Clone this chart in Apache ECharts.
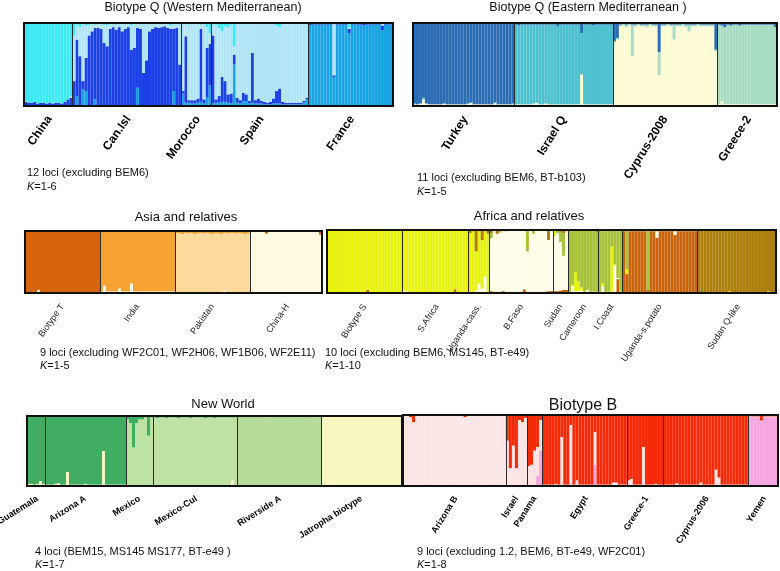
<!DOCTYPE html>
<html><head><meta charset="utf-8">
<script src="https://cdn.jsdelivr.net/npm/echarts@6/dist/echarts.min.js"></script>
<style>html,body{margin:0;padding:0;background:#fff}#c{width:780px;height:571px}</style>
</head><body><div id="c"></div><script>
// null = remainder (dominant cluster), 0 = cluster absent in that population
// ---------- Panel 1: Biotype Q (Western Mediterranean) ----------
const wmPops = ['China','Can.Isl','Morocco','Spain','France'];
const wmSizes = [16,36,10,32,28];
const wmMid = [0,
 [0,0.12,0,0.2,0.18,0,0,0.08,0,0, 0,0,0,0,0,0,0,0,0,0, 0,0.22,0,0,0,0,0,0,0,0, 0,0,0,0.18,0,0],
 [0.15,0.04,0.04,0.03,0.03,0.04,0.05,0.03,0.1,0.25],
 [0.03,0.04,0.04,0.05,0.05,0.04,0.03,0.5,0.04,0.03, 0.06,0.06,0.03,0.04,0.03,0.03,0.03,0.02,0.02,0.02, 0.03,0.03,0.03,0.02,0.02,0.02,0.02,0.02,0.02,0.02, 0.04,0.08],
 null];
const wmDark = [
 [0.05,0.04,0.04,0.05,0.03,0.04,0.04,0.03,0.04,0.03,0.04,0.04,0.03,0.05,0.08,0.1],
 [0.3,0.68,0.6,0.1,0.4,0.85,0.9,0.86,0.94,0.93, 0.76,0.72,0.93,0.95,0.92,0.95,0.9,0.93,0.95,0.68, 0.7,0.72,0.93,0.4,0.55,0.9,0.93,0.95,0.94,0.95, 0.96,0.94,0.93,0.75,0.94,0.5],
 [0.03,0.8,0.03,0.04,0.04,0.05,0.88,0.05,0.6,0.5],
 [0.82,0.04,0.08,0.3,0.25,0.1,0.12,0.12,0.06,0.04, 0.1,0.08,0.03,0.6,0.04,0.06,0.03,0.03,0.02,0.03, 0.06,0.15,0.18,0.03,0.02,0.02,0.02,0.02,0.02,0.02, 0.02,0.02],
 [0.02,0.02,0.015,0.02,0.02,0.015,0.02,0.02,0.02,0.02, 0.015,0.02,0.02,0.05,0.02,0.015,0.02,0.02,0.03,0.02, 0.02,0.015,0.02,0.02,0.06,0.02,0.02,0.015]];
const wmLight = [
 [0.01,0,0,0,0,0,0,0,0,0,0,0,0,0,0,0.02],
 null, null, null,
 [0,0,0,0,0,0,0,0,0.63,0, 0,0,0,0.02,0,0,0,0,0,0, 0,0,0,0,0.02,0,0,0]];
const wmCyan = [null,
 [0.15,0.02,0.05,0,0.03,0.02,0,0.02,0,0, 0.02,0.03,0,0,0.02,0,0,0,0,0.03, 0,0,0,0.02,0,0,0,0,0,0, 0,0,0.03,0,0,0.02],
 [0,0,0.02,0,0,0,0.02,0,0.05,0.12],
 [0.02,0.02,0.06,0.1,0.04,0.05,0.02,0.28,0,0, 0,0.02,0,0,0,0,0,0,0,0, 0,0.03,0.05,0,0,0,0,0,0,0, 0,0],
 [0.01,0,0,0,0,0,0,0,0,0, 0,0,0,0.05,0,0,0,0,0,0, 0,0,0,0,0.01,0,0,0]];

// ---------- Panel 2: Biotype Q (Eastern Mediterranean) ----------
const emPops = ['Turkey','Israel Q','Cyprus-2008','Greece-2'];
const emSizes = [34,33,35,20];
const emCream = [
 [0.02,0.02,0.03,0.08,0.03,0.02,0.02,0.02,0.02,0.02, 0.03,0.02,0.02,0.02,0.02,0.02,0.02,0.02,0.03,0.04, 0.02,0.02,0.02,0.02,0.02,0.02,0.02,0.04,0.02,0.02, 0.02,0.02,0.02,0.02],
 [0.02,0.02,0.02,0.02,0.02,0.02,0.03,0.04,0.02,0.02, 0.03,0.02,0.02,0.02,0.02,0.02,0.02,0.02,0.02,0.02, 0.02,0.02,0.38,0.02,0.02,0.02,0.02,0.02,0.02,0.02, 0.02,0.02,0.02],
 null,
 [0.02,0.06,0.02,0.02,0.02,0.02,0.02,0.02,0.02,0.02, 0.02,0.02,0.02,0.02,0.02,0.02,0.02,0.02,0.02,0.02]];
const emTeal = [
 [0.01,0,0,0.02,0,0,0,0,0,0, 0,0,0,0,0,0,0,0,0,0, 0,0,0,0,0,0,0,0,0,0, 0,0,0,0.01],
 null, 0, 0];
const emMint = [0, 0,
 [0.02,0.02,0.02,0.02,0.03,0.02,0.38,0.02,0.02,0.02, 0.02,0.03,0.02,0.02,0.02,0.28,0.02,0.02,0.02,0.02, 0.18,0.02,0.02,0.02,0.03,0.08,0.02,0.02,0.02,0.02, 0.02,0.02,0.02,0.02,0.02],
 null];
const emDark = [null,
 [0.02,0.03,0.02,0.02,0.02,0.02,0.02,0.02,0.02,0.02, 0.02,0.02,0.02,0.02,0.04,0.02,0.02,0.02,0.02,0.02, 0.02,0.02,0.12,0.02,0.02,0.02,0.03,0.02,0.02,0.02, 0.02,0.02,0.02],
 [0.22,0.18,0.02,0.01,0.02,0.01,0.02,0.02,0.01,0.02, 0.02,0.02,0.01,0.02,0.02,0.35,0.02,0.02,0.01,0.02, 0.02,0.02,0.02,0.01,0.02,0.02,0.02,0.02,0.01,0.02, 0.02,0.02,0.02,0.02,0.32],
 [0.02,0.03,0.05,0.02,0.03,0.02,0.02,0.03,0.02,0.02, 0.02,0.02,0.02,0.02,0.02,0.02,0.02,0.02,0.02,0.05]];

// ---------- Panel 3: Asia and relatives ----------
const asPops = ['Biotype T','India','Pakistan','China-H'];
const asSizes = [25,25,25,24];
const asCream = [
 [0.01,0.01,0.01,0.01,0.05,0.01,0.01,0.01,0.01,0.01, 0.01,0.01,0.01,0.01,0.01,0.01,0.01,0.01,0.01,0.01, 0.01,0.01,0.01,0.01,0.01],
 [0.02,0.1,0.02,0.02,0.02,0.02,0.06,0.02,0.02,0.02, 0.14,0.02,0.02,0.02,0.02,0.02,0.02,0.02,0.02,0.02, 0.02,0.02,0.02,0.02,0.02],
 [0,0,0,0,0,0,0,0,0,0, 0,0,0,0,0,0,0.04,0,0,0, 0,0,0,0,0],
 null];
const asPeach = [0,
 [0.01,0.02,0.01,0.01,0.01,0.01,0.02,0.01,0.01,0.01, 0.02,0.01,0.01,0.01,0.01,0.01,0.01,0.01,0.01,0.01, 0.01,0.01,0.01,0.01,0.01],
 null, 0];
const asOrange = [0, null,
 [0.03,0.04,0.05,0.03,0.04,0.03,0.05,0.04,0.03,0.04, 0.03,0.04,0.05,0.03,0.04,0.05,0.03,0.04,0.03,0.03, 0.04,0.03,0.04,0.05,0.03],
 0];
const asDark = [null, 0, 0,
 [0,0,0,0,0,0.04,0,0,0,0, 0,0,0,0,0,0,0,0,0,0, 0,0,0,0.06]];

// ---------- Panel 4: Africa and relatives ----------
const afPops = ['Biotype S','S.Africa','Uganda-cass.','B.Faso','Sudan','Cameroon','I.Coast','Uganda-s.potato','Sudan Q-like'];
const afSizes = [25,22,7,21,5,10,8,25,26];
const afOrange = [
 [0.01,0.01,0.01,0.01,0.01,0.01,0.01,0.01,0.01,0.01, 0.01,0.01,0.01,0.05,0.01,0.01,0.01,0.01,0.01,0.01, 0.01,0.01,0.01,0.01,0.01],
 [0.01,0.01,0.01,0.01,0.01,0.01,0.01,0.01,0.01,0.01, 0.01,0.01,0.01,0.01,0.01,0.01,0.01,0.06,0.01,0.01, 0.02,0.02],
 [0.02,0.02,0.02,0.02,0.02,0.02,0.02],
 [0.03,0.02,0.02,0.02,0.03,0.02,0.02,0.02,0.02,0.02, 0.02,0.06,0.02,0.02,0.02,0.02,0.02,0.02,0.02,0.03, 0.03],
 [0.03,0.03,0.04,0.05,0.05],
 [0.01,0.01,0.01,0.01,0.01,0.01,0.01,0.01,0.01,0.01],
 [0.01,0.01,0.01,0.01,0.01,0.02,0.22,0.01],
 null,
 0];
const afCream = [0,
 [0.03,0.02,0,0,0,0,0,0,0,0, 0,0,0,0,0,0,0,0,0,0, 0,0],
 [0,0,0.02,0.13,0.05,0.24,0],
 null, null,
 [0.01,0.1,0.02,0.02,0.03,0.01,0.04,0.01,0.01,0.01],
 [0.01,0.1,0.01,0.01,0.01,0.42,0.02,0.01],
 [0,0,0,0,0,0,0,0,0,0, 0,0.1,0,0,0,0,0,0.06,0,0, 0,0,0,0,0],
 0];
const afYellow = [null, null, null, 0,
 [0.1,0,0,0,0],
 [0,0.02,0.3,0.15,0.05,0,0,0,0,0],
 [0,0.05,0,0,0.72,0.02,0,0],
 [0,0.08,0,0,0,0,0,0,0,0, 0,0,0,0,0,0,0,0,0,0, 0,0,0,0,0],
 [0,0,0,0,0,0,0,0,0,0, 0.03,0,0,0,0,0,0,0,0,0, 0,0,0,0.03,0,0]];
const afOlive = [0, 0, 0,
 [0.08,0,0,0.04,0,0,0,0,0,0, 0,0,0.34,0,0.06,0,0,0,0,0, 0],
 [0,0.05,0.16,0.36,0],
 null, null,
 [0,0.6,0,0,0,0,0,0,0.93,0, 0,0,0,0,0,0,0,0,0,0, 0,0,0,0,0],
 0];
const afGold = [0, 0,
 [0.05,0.02,0.34,0.02,0.16,0.02,0.06],
 [0.05,0,0.06,0,0,0.02,0,0,0,0, 0,0,0,0,0,0,0,0,0,0.16, 0],
 [0,0,0.03,0.05,0.02],
 [0,0,0,0,0,0,0,0,0,0.04],
 0,
 [0.02,0.02,0.02,0.02,0.02,0.02,0.02,0.02,0.02,0.02, 0.02,0.02,0.02,0.02,0.02,0.02,0.02,0.02,0.02,0.02, 0.02,0.02,0.02,0.02,0.02],
 null];

// ---------- Panel 5: New World ----------
const nwPops = ['Guatemala','Arizona A','Mexico','Mexico-Cul','Riverside A','Jatropha biotype'];
const nwSizes = [6,27,9,28,28,27];
const nwYellow = [
 [0.03,0.03,0.02,0.03,0.07,0.03],
 [0.02,0.02,0.02,0.03,0.04,0.02,0.02,0.2,0.02,0.02, 0.02,0.02,0.02,0.03,0.02,0.02,0.02,0.02,0.02,0.5, 0.02,0.02,0.02,0.02,0.02,0.02,0.02],
 0,
 [0,0,0,0,0,0,0,0,0,0, 0,0,0,0,0,0,0,0,0,0, 0,0,0,0,0,0,0.08,0],
 0,
 null];
const nwRiver = [0, 0, 0, 0, null, 0];
const nwMexCul = [0, 0, null, null, 0, 0];
const nwDark = [null, null,
 [0.05,0.1,0.45,0.1,0.05,0.05,0.02,0.28,0.02],
 [0.02,0.03,0.02,0.02,0.03,0.02,0.02,0.02,0.03,0.02, 0.02,0.02,0.03,0.02,0.02,0.02,0.02,0.03,0.02,0.02, 0.03,0.02,0.02,0.02,0.02,0.02,0.02,0.02],
 [0.01,0.02,0.01,0.01,0.02,0.01,0.01,0.01,0.02,0.01, 0.01,0.01,0.02,0.01,0.01,0.02,0.01,0.01,0.01,0.02, 0.01,0.01,0.01,0.01,0.02,0.01,0.01,0.01],
 0];

// ---------- Panel 6: Biotype B ----------
const bbPops = ['Arizona B','Israel','Panama','Egypt','Greece-1','Cyprus-2006','Yemen'];
const bbSizes = [34,7,5,28,12,28,10];
const bbPink = [
 [0.01,0.01,0.01,0.01,0.01,0.01,0.01,0.01,0.01,0.01, 0.01,0.01,0.01,0.01,0.01,0.01,0.01,0.01,0.01,0.01, 0.01,0.01,0.01,0.01,0.01,0.01,0.01,0.01,0.01,0.01, 0.01,0.01,0.01,0.01],
 0,
 [0,0,0,0.15,0.5],
 [0,0,0,0,0,0,0,0,0,0, 0,0,0,0,0,0,0,0.3,0,0, 0,0,0,0,0,0,0,0],
 0, 0, null];
const bbPale = [null, null,
 [0.28,0.3,0.5,0.4,0.43],
 [0.02,0.02,0.02,0.02,0.03,0.02,0.69,0.02,0.02,0.86, 0.02,0.08,0.02,0.02,0.02,0.02,0.02,0.46,0.02,0.02, 0.02,0.02,0.02,0.05,0.05,0.02,0.02,0.02],
 [0.08,0.1,0.02,0.02,0.02,0.55,0.02,0.02,0.02,0.03,0.02,0.02],
 [0.02,0.02,0.02,0.02,0.04,0.02,0.02,0.02,0.02,0.02, 0.02,0.02,0.05,0.02,0.02,0.02,0.02,0.23,0.12,0.02, 0.02,0.02,0.02,0.02,0.02,0.02,0.02,0.02],
 [0.01,0.01,0.01,0.01,0.01,0.01,0.01,0.01,0.01,0.01]];
const bbRed = [
 [0.01,0.01,0.03,0.1,0.01,0.01,0.01,0.01,0.01,0.01, 0.01,0.01,0.01,0.01,0.01,0.01,0.01,0.01,0.01,0.01, 0.03,0.01,0.01,0.01,0.01,0.01,0.01,0.01,0.01,0.01, 0.01,0.01,0.01,0.01],
 [0.36,0.75,0.43,0.75,0.07,0.1,0.04],
 null, null, null, null,
 [0.02,0.02,0.02,0.02,0.08,0.02,0.02,0.02,0.02,0.02]];

// ---------- build ----------
function buildValues(sizes, clusterData) {
  const out = clusterData.map(() => []);
  sizes.forEach((sz, p) => {
    for (let i = 0; i < sz; i++) {
      let sum = 0, rem = -1;
      clusterData.forEach((cd, k) => {
        const d = cd[p];
        if (d === null) { rem = k; out[k].push(0); }
        else { const v = d === 0 ? 0 : d[i]; if (v === undefined) console.error('missing', p, i); out[k].push(v); sum += v; }
      });
      if (rem >= 0) out[rem][out[rem].length - 1] = Math.max(0, +(1 - sum).toFixed(3));
    }
  });
  return out;
}

const FONT = '"Liberation Sans", Arial, Helvetica, sans-serif';
const panels = [
  {pops: wmPops, sizes: wmSizes, data: [wmMid, wmDark, wmLight, wmCyan],
   colors: ['#18a3e2', '#1b40e6', '#b1e4f6', '#3deaf3'],
   grid: {left: 24, top: 23, width: 369, height: 83},
   label: {rotate: 55, fontSize: 12, fontWeight: 'bold', margin: 11, color: '#000'}},
  {pops: emPops, sizes: emSizes, data: [emCream, emTeal, emMint, emDark],
   colors: ['#fdfbd3', '#4ec1cf', '#a8dcc2', '#2b6db5'],
   grid: {left: 413, top: 23, width: 364, height: 83},
   label: {rotate: 58, fontSize: 12, fontWeight: 'bold', margin: 11, color: '#000'}},
  {pops: asPops, sizes: asSizes, data: [asCream, asPeach, asOrange, asDark],
   colors: ['#fffbe0', '#fdd99c', '#f6a334', '#d6640c'],
   grid: {left: 25, top: 231, width: 297, height: 62},
   label: {rotate: 55, fontSize: 9, fontWeight: 'normal', margin: 12, color: '#1a1a1a'}},
  {pops: afPops, sizes: afSizes, data: [afOrange, afCream, afYellow, afOlive, afGold],
   colors: ['#c8630c', '#fffce8', '#e7f20e', '#a7c23b', '#ad7f0c'],
   grid: {left: 327, top: 230, width: 449, height: 63},
   label: {rotate: 57, fontSize: 9, fontWeight: 'normal', margin: 12, color: '#1a1a1a'}},
  {pops: nwPops, sizes: nwSizes, data: [nwYellow, nwRiver, nwMexCul, nwDark],
   colors: ['#f6f6be', '#b4db9a', '#bde2a4', '#40ad62'],
   grid: {left: 27, top: 416, width: 375, height: 70},
   label: {rotate: 32, fontSize: 9, fontWeight: 'bold', margin: 12, color: '#000'}},
  {pops: bbPops, sizes: bbSizes, data: [bbPink, bbPale, bbRed],
   colors: ['#f5a6e0', '#fde4e4', '#f52a08'],
   grid: {left: 403, top: 415, width: 375, height: 71},
   label: {rotate: 58, fontSize: 9, fontWeight: 'bold', margin: 11, color: '#000'}}
];

const grids = [], xAxes = [], yAxes = [], series = [];
panels.forEach((pn, g) => {
  const n = pn.sizes.reduce((a, b) => a + b, 0);
  const cats = Array.from({length: n}, (_, i) => String(i));
  const labelAt = {}, boundaries = new Set();
  let start = 0;
  pn.sizes.forEach((sz, p) => {
    labelAt[start + Math.floor(sz / 2)] = pn.pops[p];
    if (start > 0) boundaries.add(start);
    start += sz;
  });
  grids.push(Object.assign({show: true, borderColor: '#111', borderWidth: 2, backgroundColor: 'transparent',
    z: 10, containLabel: false, outerBoundsMode: 'none'}, pn.grid));
  xAxes.push({
    type: 'category', gridIndex: g, data: cats, boundaryGap: true, z: 6,
    axisLine: {show: false}, axisTick: {show: false},
    splitLine: {show: true, interval: (i) => boundaries.has(i), lineStyle: {color: '#2a2a2a', width: 1}},
    axisLabel: {
      interval: (i) => labelAt[i] !== undefined,
      formatter: (v) => labelAt[+v] || '',
      rotate: pn.label.rotate, fontSize: pn.label.fontSize, fontWeight: pn.label.fontWeight,
      margin: pn.label.margin, color: pn.label.color, fontFamily: FONT, hideOverlap: false
    }
  });
  yAxes.push({type: 'value', gridIndex: g, min: 0, max: 1, show: false});
  const vals = buildValues(pn.sizes, pn.data);
  vals.forEach((arr, k) => {
    series.push({
      type: 'bar', xAxisIndex: g, yAxisIndex: g, stack: 'p' + g, data: arr,
      barCategoryGap: '0%', barGap: '0%', silent: true,
      itemStyle: {color: pn.colors[k], borderWidth: 0},
      emphasis: {disabled: true}
    });
  });
});

function txt(x, y, text, size, align, extra) {
  return {type: 'text', x: x, y: y, silent: true,
    style: Object.assign({text: text, fontSize: size, fontFamily: FONT, fill: '#111',
      textAlign: align, textVerticalAlign: 'middle'}, extra || {})};
}
const kRich = {rich: {i: {fontStyle: 'italic', fontSize: 11, fontFamily: FONT, fill: '#111'}}};
const graphics = [
  txt(203, 8, 'Biotype Q (Western Mediterranean)', 12.5, 'center'),
  txt(588, 8, 'Biotype Q (Eastern Mediterranean )', 12.5, 'center'),
  txt(186, 217, 'Asia and relatives', 13, 'center'),
  txt(529, 216, 'Africa and relatives', 13, 'center'),
  txt(223, 404, 'New World', 13, 'center'),
  txt(583, 406, 'Biotype B', 16, 'center'),
  txt(27, 173, '12 loci (excluding BEM6)', 11, 'left'),
  txt(27, 187, '{i|K}=1-6', 11, 'left', kRich),
  txt(417, 178, '11 loci (excluding BEM6, BT-b103)', 11, 'left'),
  txt(417, 192, '{i|K}=1-5', 11, 'left', kRich),
  txt(40, 353, '9 loci (excluding WF2C01, WF2H06, WF1B06, WF2E11)', 11, 'left'),
  txt(40, 366, '{i|K}=1-5', 11, 'left', kRich),
  txt(325, 353, '10 loci (excluding BEM6, MS145, BT-e49)', 11, 'left'),
  txt(325, 366, '{i|K}=1-10', 11, 'left', kRich),
  txt(35, 552, '4 loci (BEM15, MS145 MS177, BT-e49 )', 11, 'left'),
  txt(35, 565, '{i|K}=1-7', 11, 'left', kRich),
  txt(417, 552, '9 loci (excluding 1.2, BEM6, BT-e49, WF2C01)', 11, 'left'),
  txt(417, 565, '{i|K}=1-8', 11, 'left', kRich)
];

const chart = echarts.init(document.getElementById('c'), null, {renderer: 'canvas'});
chart.setOption({
  animation: false,
  backgroundColor: '#ffffff',
  textStyle: {fontFamily: FONT},
  grid: grids, xAxis: xAxes, yAxis: yAxes, series: series,
  graphic: graphics
});
</script></body></html>
